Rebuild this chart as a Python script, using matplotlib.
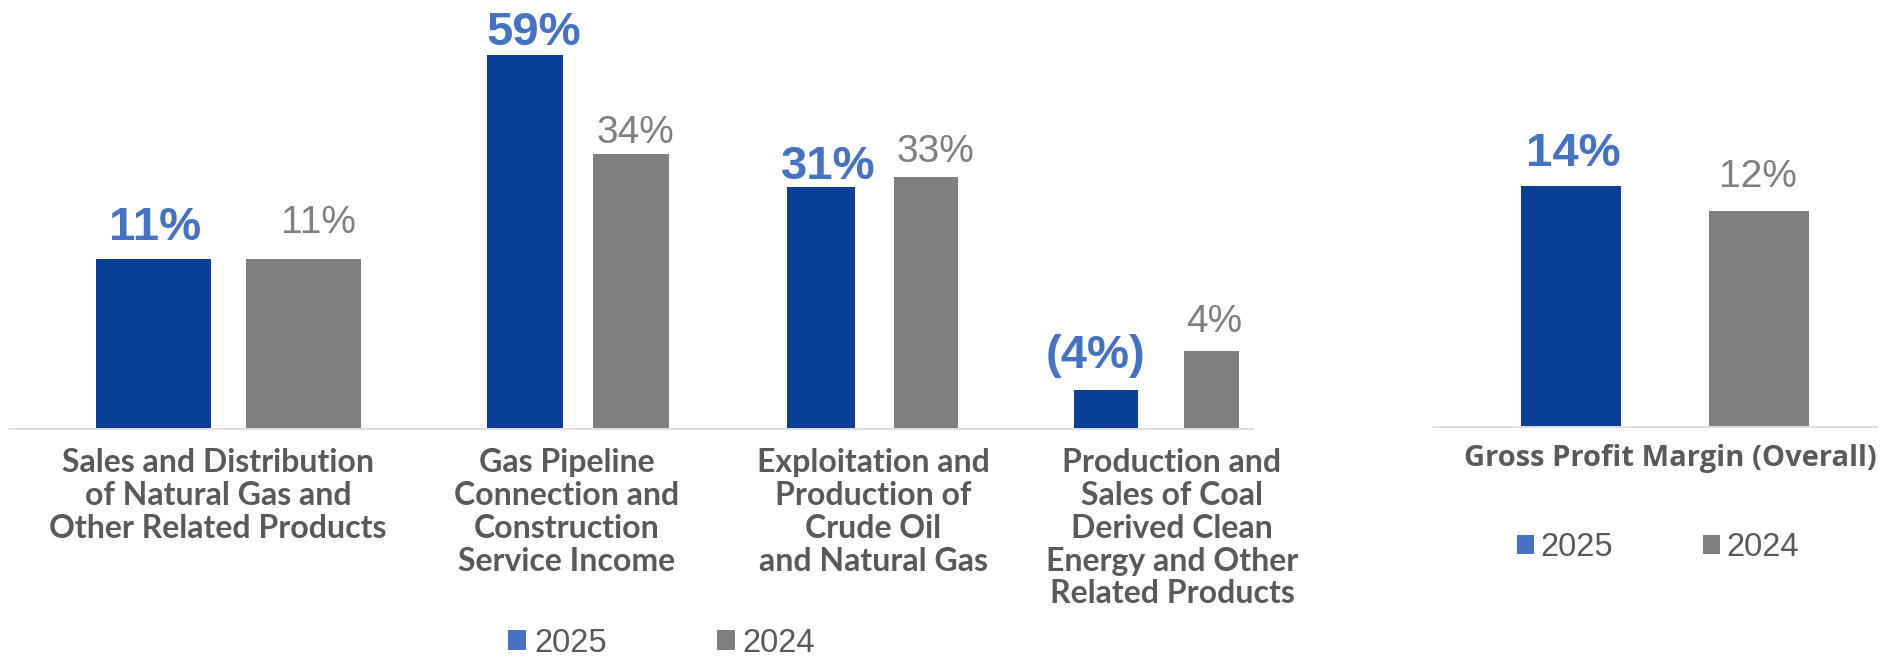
import matplotlib
matplotlib.use("Agg")
import matplotlib.pyplot as plt
from matplotlib.patches import Patch

# ---------------- data ----------------
categories = [
    "Sales and Distribution\nof Natural Gas and\nOther Related Products",
    "Gas Pipeline\nConnection and\nConstruction\nService Income",
    "Exploitation and\nProduction of\nCrude Oil\nand Natural Gas",
    "Production and\nSales of Coal\nDerived Clean\nEnergy and Other\nRelated Products",
]
series_names = ["2025", "2024"]
# bar heights as drawn (relative units)
heights_2025 = [170, 374, 242, 39]
heights_2024 = [170, 275, 252, 78]
labels_2025 = ["11%", "59%", "31%", "(4%)"]
labels_2024 = ["11%", "34%", "33%", "4%"]

overall_category = "Gross Profit Margin (Overall)"
overall_heights = [241, 216]          # 2025, 2024
overall_labels = ["14%", "12%"]

# ---------------- style / layout ----------------
BAR_BLUE = "#0B3F97"
BAR_GRAY = "#7F7F7F"
LBL_BLUE = "#4472C4"
LBL_GRAY = "#7F7F7F"
TXT_DARK = "#595959"
AXIS_COL = "#D9DEE7"

W, H = 1894, 656
DPI = 100
PX = 72.0 / DPI  # points per pixel

# left panel layout (units of 100 px)
group_centers = [2.195, 5.69, 8.645, 11.4975]
half_sep = [0.75, 0.53, 0.525, 0.5275]
widths_2025 = [1.15, 0.76, 0.68, 0.64]
widths_2024 = [1.15, 0.76, 0.64, 0.55]
cat_label_x = [2.09, 5.58, 8.64, 11.63]
gap_2025 = [19, 10, 8, 22]     # px between bar top and label baseline
gap_2024 = [26, 11, 15, 19]
dx_2025 = [1.5, 9, 7, -11]
dx_2024 = [15, 4, 9, 3]

fig = plt.figure(figsize=(W / DPI, H / DPI), dpi=DPI)
fig.patch.set_facecolor("white")

def add_px_axes(x0, x1, base):
    return fig.add_axes([x0 / W, (H - base) / H, (x1 - x0) / W, base / H])

def style_axes(ax, xmax, ymax):
    ax.set_xlim(0, xmax)
    ax.set_ylim(0, ymax)
    for s in ["top", "right", "left"]:
        ax.spines[s].set_visible(False)
    ax.spines["bottom"].set_color(AXIS_COL)
    ax.spines["bottom"].set_linewidth(2 * PX)
    ax.set_xticks([])
    ax.set_yticks([])
    ax.patch.set_alpha(0)

# ---------- left panel ----------
axL = add_px_axes(9, 1253, 429)
style_axes(axL, 12.44, 429)
x25 = [c - h for c, h in zip(group_centers, half_sep)]
x24 = [c + h for c, h in zip(group_centers, half_sep)]
axL.bar(x25, heights_2025, width=widths_2025, color=BAR_BLUE, zorder=1)
axL.bar(x24, heights_2024, width=widths_2024, color=BAR_GRAY, zorder=1)

for i in range(len(categories)):
    axL.annotate(labels_2025[i], xy=(x25[i], heights_2025[i]),
                 xytext=(dx_2025[i] * PX, gap_2025[i] * PX), textcoords="offset points",
                 ha="center", va="baseline", fontsize=34, fontweight="bold",
                 color=LBL_BLUE, family="Liberation Sans", annotation_clip=False)
    axL.annotate(labels_2024[i], xy=(x24[i], heights_2024[i]),
                 xytext=(dx_2024[i] * PX, gap_2024[i] * PX), textcoords="offset points",
                 ha="center", va="baseline", fontsize=28,
                 color=LBL_GRAY, family="Liberation Sans", annotation_clip=False)
    axL.annotate(categories[i], xy=(cat_label_x[i], 0),
                 xytext=(0, -19 * PX), textcoords="offset points",
                 ha="center", va="top", multialignment="center",
                 fontsize=23, fontweight="bold", color=TXT_DARK,
                 family="Lato", linespacing=1.16, annotation_clip=False)

# ---------- right panel ----------
axR = add_px_axes(1433, 1877, 427)
style_axes(axR, 4.44, 427)
xr = [1.38, 3.26]
gap_r = [20, 24]
dx_r = [2, -1]
axR.bar(xr, overall_heights, width=1.0, color=[BAR_BLUE, BAR_GRAY])
for i in range(2):
    axR.annotate(overall_labels[i], xy=(xr[i], overall_heights[i]),
                 xytext=(dx_r[i] * PX, gap_r[i] * PX), textcoords="offset points",
                 ha="center", va="baseline",
                 fontsize=34 if i == 0 else 28,
                 fontweight="bold" if i == 0 else "normal",
                 color=LBL_BLUE if i == 0 else LBL_GRAY,
                 family="Liberation Sans", annotation_clip=False)
axR.annotate(overall_category, xy=(2.37, 0), xytext=(0, -17 * PX),
             textcoords="offset points", ha="center", va="top",
             fontsize=21, fontweight="bold", color=TXT_DARK,
             family="Open Sans", annotation_clip=False)

# ---------- legends ----------
handles = [Patch(facecolor=LBL_BLUE), Patch(facecolor=BAR_GRAY)]
fig.legend(handles, series_names, loc="center left",
           bbox_to_anchor=(508 / W, (H - 643) / H), ncol=2, frameon=False,
           prop={"family": "Liberation Sans", "size": 23.5},
           labelcolor=TXT_DARK, handlelength=0.55, handleheight=0.55,
           handletextpad=0.25, columnspacing=3.37, borderpad=0, borderaxespad=0)
fig.legend(handles, series_names, loc="center left",
           bbox_to_anchor=(1517 / W, (H - 548) / H), ncol=2, frameon=False,
           prop={"family": "Liberation Sans", "size": 23.5},
           labelcolor=TXT_DARK, handlelength=0.52, handleheight=0.52,
           handletextpad=0.2, columnspacing=2.75, borderpad=0, borderaxespad=0)

fig.savefig("out.png", dpi=DPI, facecolor="white")
